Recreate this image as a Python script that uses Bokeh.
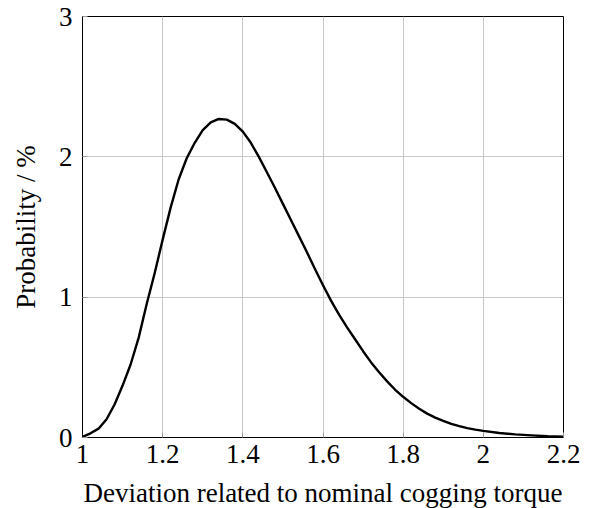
from bokeh.plotting import figure
from bokeh.models import FixedTicker, Range1d, ColumnDataSource
from bokeh.embed import file_html
from bokeh.resources import INLINE

# Data
deviation = [1.00, 1.02, 1.04, 1.06, 1.08, 1.10, 1.12, 1.14, 1.16, 1.18,
             1.20, 1.22, 1.24, 1.26, 1.28, 1.30, 1.32, 1.34, 1.36, 1.38,
             1.40, 1.42, 1.44, 1.46, 1.48, 1.50, 1.52, 1.54, 1.56, 1.58,
             1.60, 1.62, 1.64, 1.66, 1.68, 1.70, 1.72, 1.74, 1.76, 1.78,
             1.80, 1.82, 1.84, 1.86, 1.88, 1.90, 1.92, 1.94, 1.96, 1.98,
             2.00, 2.04, 2.08, 2.12, 2.16, 2.20]
probability = [0.005, 0.03, 0.063, 0.13, 0.235, 0.37, 0.52, 0.71, 0.95, 1.17,
               1.41, 1.64, 1.84, 1.99, 2.10, 2.19, 2.245, 2.27, 2.265, 2.235,
               2.18, 2.10, 2.00, 1.89, 1.78, 1.665, 1.55, 1.435, 1.32, 1.20,
               1.085, 0.975, 0.875, 0.785, 0.70, 0.615, 0.535, 0.465, 0.40, 0.34,
               0.29, 0.245, 0.205, 0.17, 0.142, 0.118, 0.097, 0.081, 0.067, 0.056,
               0.047, 0.032, 0.022, 0.015, 0.009, 0.006]

x_ticks = [1.0, 1.2, 1.4, 1.6, 1.8, 2.0, 2.2]
x_tick_labels = ["1", "1.2", "1.4", "1.6", "1.8", "2", "2.2"]
y_ticks = [0, 1, 2, 3]
y_tick_labels = ["0", "1", "2", "3"]

FONT = "Liberation Serif"
FS = "27px"

src = ColumnDataSource(dict(x=deviation, y=probability))

p = figure(frame_width=481, frame_height=421,
           min_border_left=82, min_border_top=16, min_border_right=25,
           min_border_bottom=68,
           x_range=Range1d(1.0, 2.2), y_range=Range1d(0, 3),
           output_backend="svg", toolbar_location=None)

p.line("x", "y", source=src, line_color="black", line_width=2.4,
       line_join="round")

p.outline_line_color = "black"
p.outline_line_width = 1
p.outline_line_alpha = 1

for ax in (p.xaxis[0], p.yaxis[0]):
    ax.axis_line_color = "black"
    ax.axis_line_width = 1
    ax.major_tick_in = 5
    ax.major_tick_out = 0
    ax.major_tick_line_color = "#999999"
    ax.minor_tick_line_color = None
    ax.major_label_text_font = FONT
    ax.major_label_text_font_size = FS
    ax.major_label_text_color = "black"
    ax.axis_label_text_font = FONT
    ax.axis_label_text_font_size = FS
    ax.axis_label_text_font_style = "normal"
    ax.axis_label_text_color = "black"

p.xaxis.ticker = FixedTicker(ticks=x_ticks)
p.xaxis.major_label_overrides = {t: l for t, l in zip(x_ticks, x_tick_labels)}
p.yaxis.ticker = FixedTicker(ticks=y_ticks)
p.yaxis.major_label_overrides = {t: l for t, l in zip(y_ticks, y_tick_labels)}

p.xaxis.axis_label = "Deviation related to nominal cogging torque"
p.yaxis.axis_label = "Probability / %"
p.xaxis.major_label_standoff = 7
p.xaxis.axis_label_standoff = 12
p.yaxis.major_label_standoff = 10
p.yaxis.axis_label_standoff = 15

p.xgrid.ticker = FixedTicker(ticks=x_ticks)
p.ygrid.ticker = FixedTicker(ticks=y_ticks)
p.grid.grid_line_color = "#c8c8c8"
p.grid.grid_line_width = 1
p.grid.grid_line_alpha = 1

p.background_fill_color = "white"
p.border_fill_color = "white"

open("out.html", "w").write(file_html(p, INLINE))
